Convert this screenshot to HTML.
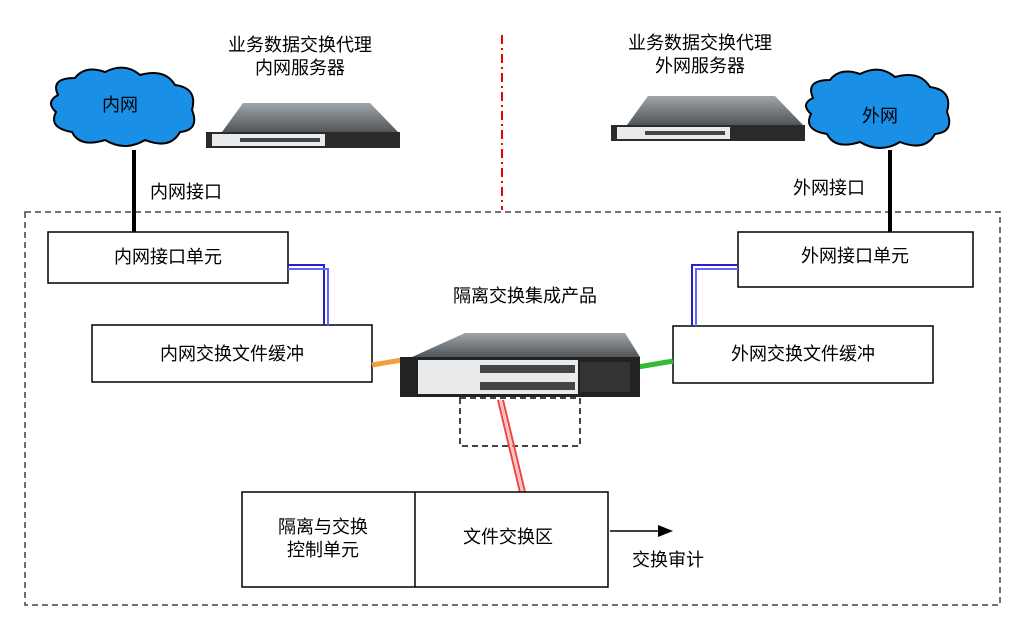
<!DOCTYPE html>
<html><head><meta charset="utf-8"><style>
body{margin:0;background:#fff;width:1023px;height:615px;overflow:hidden;font-family:"Liberation Sans","Noto Sans CJK SC",sans-serif}
</style></head><body>
<svg width="1023" height="615" viewBox="0 0 1023 615" xmlns="http://www.w3.org/2000/svg" font-family="Liberation Sans, Noto Sans CJK SC, sans-serif" font-size="18" fill="#000">
<defs>
<linearGradient id="top" x1="0" y1="0" x2="0" y2="1"><stop offset="0" stop-color="#a0a5aa"/><stop offset="1" stop-color="#50555a"/></linearGradient>
</defs>
<rect x="25" y="212" width="975" height="393" fill="none" stroke="#444" stroke-width="1.5" stroke-dasharray="6,4"/>
<line x1="502" y1="35" x2="502" y2="210" stroke="#e00" stroke-width="2" stroke-dasharray="9,4,2,4"/>
<g fill="#1a8fe6" stroke="#000" stroke-width="2">
<path d="M58 95 Q50 78 75 78 Q85 65 105 72 Q125 62 140 75 Q165 68 175 85 Q198 88 192 110 Q200 130 180 132 Q170 150 145 140 Q125 152 105 140 Q80 148 72 132 Q48 128 56 112 Q45 102 58 95Z"/>
<path d="M813 98 Q805 80 830 80 Q840 67 860 74 Q880 64 895 77 Q920 70 930 87 Q953 90 947 112 Q955 132 935 134 Q925 152 900 142 Q880 154 860 142 Q835 150 827 134 Q803 130 811 114 Q800 104 813 98Z"/>
</g>
<text x="120" y="111" text-anchor="middle">内网</text>
<text x="880" y="122" text-anchor="middle">外网</text>
<g>
<polygon points="222,132 243,103 370,103 398,132" fill="url(#top)"/>
<rect x="206" y="132" width="194" height="16" fill="#2a2a2a"/>
<rect x="212" y="134" width="113" height="12" fill="#e8eaec"/>
<rect x="240" y="138" width="80" height="4" fill="#444"/>
<polygon points="627,125 648,96 775,96 803,125" fill="url(#top)"/>
<rect x="611" y="125" width="194" height="16" fill="#2a2a2a"/>
<rect x="617" y="127" width="113" height="12" fill="#e8eaec"/>
<rect x="645" y="131" width="80" height="4" fill="#444"/>
</g>
<text x="300" y="51" text-anchor="middle">业务数据交换代理</text>
<text x="300" y="74" text-anchor="middle">内网服务器</text>
<text x="700" y="49" text-anchor="middle">业务数据交换代理</text>
<text x="700" y="72" text-anchor="middle">外网服务器</text>
<line x1="134" y1="150" x2="134" y2="232" stroke="#000" stroke-width="4"/>
<line x1="890" y1="150" x2="890" y2="232" stroke="#000" stroke-width="4"/>
<text x="150" y="198">内网接口</text>
<text x="793" y="194">外网接口</text>
<g fill="#fff" stroke="#000" stroke-width="1.5">
<rect x="48" y="232" width="240" height="51"/>
<rect x="92" y="325" width="280" height="57"/>
<rect x="738" y="232" width="235" height="55"/>
<rect x="673" y="326" width="260" height="57"/>
</g>
<text x="168" y="263" text-anchor="middle">内网接口单元</text>
<text x="232" y="360" text-anchor="middle">内网交换文件缓冲</text>
<text x="855" y="262" text-anchor="middle">外网接口单元</text>
<text x="803" y="360" text-anchor="middle">外网交换文件缓冲</text>
<g fill="none" stroke-width="2">
<polyline points="288,265 324,265 324,325" stroke="#22c"/>
<polyline points="288,269 328,269 328,325" stroke="#66f"/>
<polyline points="738,265 692,265 692,326" stroke="#22c"/>
<polyline points="738,269 696,269 696,326" stroke="#66f"/>
</g>
<line x1="372" y1="365" x2="402" y2="360" stroke="#f0a040" stroke-width="5"/>
<line x1="638" y1="367" x2="673" y2="361" stroke="#3b3" stroke-width="5"/>
<text x="525" y="302" text-anchor="middle">隔离交换集成产品</text>
<polygon points="412,357 465,333 625,333 640,357" fill="url(#top)"/>
<rect x="400" y="357" width="240" height="40" fill="#222"/>
<rect x="418" y="360" width="160" height="34" fill="#e8eaec"/>
<rect x="480" y="365" width="95" height="8" fill="#444"/>
<rect x="480" y="382" width="95" height="8" fill="#444"/>
<rect x="580" y="362" width="50" height="30" fill="#333"/>
<rect x="460" y="398" width="120" height="48" fill="none" stroke="#444" stroke-width="2" stroke-dasharray="6,4"/>
<line x1="498" y1="400" x2="520" y2="492" stroke="#e44" stroke-width="2"/>
<line x1="503" y1="400" x2="525" y2="492" stroke="#e44" stroke-width="2"/>
<line x1="500.5" y1="400" x2="522.5" y2="492" stroke="#fbb" stroke-width="2"/>
<rect x="242" y="492" width="366" height="95" fill="#fff" stroke="#000" stroke-width="1.5"/>
<line x1="415" y1="492" x2="415" y2="587" stroke="#000" stroke-width="1.5"/>
<text x="323" y="533" text-anchor="middle">隔离与交换</text>
<text x="323" y="556" text-anchor="middle">控制单元</text>
<text x="508" y="543" text-anchor="middle">文件交换区</text>
<line x1="610" y1="531" x2="660" y2="531" stroke="#000" stroke-width="1.5"/>
<polygon points="658,525 673,531 658,537" fill="#000"/>
<text x="668" y="566" text-anchor="middle">交换审计</text>
</svg>
</body></html>
